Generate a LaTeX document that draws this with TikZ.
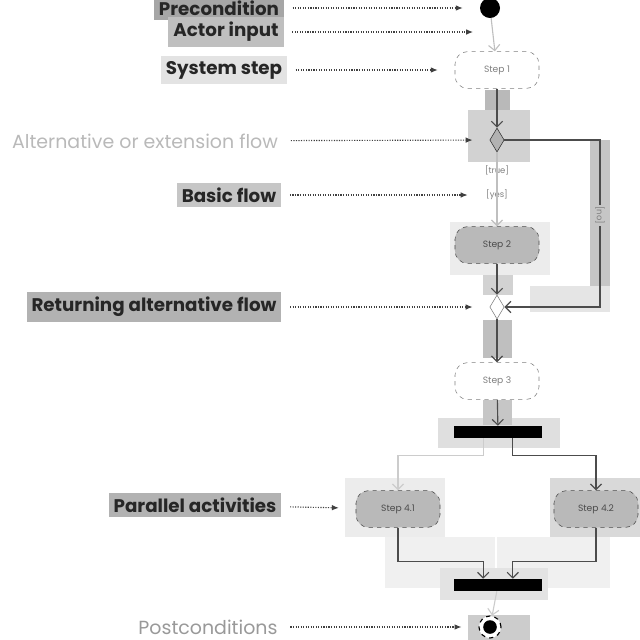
\documentclass[tikz,border=0pt]{standalone}
\usepackage{fontspec}
\setmainfont{Poppins}
\usetikzlibrary{arrows.meta,shapes.geometric}

\tikzset{
  lbl/.style={fill=#1, inner sep=3.5pt, text=black!85,
    font=\bfseries\fontsize{13}{15}\selectfont},
  lbltxt/.style={inner sep=3pt, font=\fontsize{13.5}{15}\selectfont},
  note/.style={densely dotted, thick, draw=black!75,
    -{Latex[length=5pt,width=4pt]}, shorten <=6pt, shorten >=12pt},
  flow/.style={draw=black!70, thick, -{Straight Barb[length=4pt,width=8pt]}},
  stepplain/.style={rectangle, rounded corners=9pt, draw=gray, dashed, fill=white,
    minimum width=2.1cm, minimum height=0.92cm, text=gray,
    font=\fontsize{6.5}{8}\selectfont},
  stepgrey/.style={stepplain, fill=gray!55, draw=black!70, text=black!70},
  decision/.style={diamond, draw=black!80, fill=gray!60, inner sep=0pt,
    minimum width=0.36cm, minimum height=0.6cm},
  merge/.style={decision, fill=white, draw=gray},
  guard/.style={fill=white, inner sep=1pt, text=gray,
    font=\fontsize{6}{7}\selectfont},
  bar/.style={rectangle, fill=black, minimum width=2.18cm, minimum height=0.3cm,
    inner sep=0pt},
  startnode/.style={circle, fill=black, minimum size=0.5cm, inner sep=0pt},
  endnode/.style={circle, draw=black, dashed, thick, fill=white,
    minimum size=0.55cm, inner sep=0pt,
    path picture={\fill[black] (path picture bounding box.center) circle (0.17cm);}}
}

\begin{document}
\begin{tikzpicture}[x=0.025cm,y=-0.025cm]
  \useasboundingbox (0,0) rectangle (640,640);

  % grey highlight bands
  \fill[gray!55] (485,90) rectangle (510,125);
  \fill[gray!35] (468,110) rectangle (530,162);
  \fill[gray!45] (590,140) rectangle (610,312);
  \fill[gray!20] (530,286) rectangle (610,312);
  \fill[gray!15] (450,222) rectangle (550,275);
  \fill[gray!35] (483,275) rectangle (513,295);
  \fill[gray!50] (483,320) rectangle (512,358);
  \fill[gray!25] (438,418) rectangle (560,448);
  \fill[gray!45] (483,400) rectangle (512,425);
  \fill[gray!15] (345,478) rectangle (445,537);
  \fill[gray!30] (550,478) rectangle (640,537);
  \fill[gray!12] (385,537) rectangle (495,588);
  \fill[gray!12] (497,537) rectangle (610,588);
  \fill[gray!22] (440,568) rectangle (548,600);
  \fill[gray!40] (468,615) rectangle (530,640);

  % activity nodes
  \node[startnode] (start) at (490,8) {};
  \node[stepplain] (s1) at (497,70) {Step 1};
  \node[decision] (alt) at (497,140) {};
  \node[guard] (gtrue) at (497,170) {[true]};
  \node[guard] (gyes) at (497,195) {[yes]};
  \node[stepgrey] (s2) at (497,245) {Step 2};
  \node[merge] (ret) at (497,307) {};
  \node[stepplain] (s3) at (497,381) {Step 3};
  \node[bar] (fork) at (498,432) {};
  \node[stepgrey] (s41) at (398,509) {Step 4.1};
  \node[stepgrey] (s42) at (596,509) {Step 4.2};
  \node[bar] (join) at (498,585) {};
  \node[endnode] (stop) at (490,627) {};

  \coordinate (actin) at (490,32);
  \coordinate (nocorner) at (600,140);
  \coordinate (noback) at (600,307);

  % flows
  \draw[flow, draw=gray!50] (start) -- (s1);
  \draw[flow] (s1) -- (alt);
  \draw[flow, draw=gray!50] (alt) -- (s2);
  \draw[flow] (alt.east) -- (nocorner)
    -- node[guard, fill=gray!45, rotate=-90, pos=0.45] {[no]} (noback)
    -- (ret.east);
  \draw[flow] (s2) -- (ret);
  \draw[flow] (ret) -- (s3);
  \draw[flow] (s3) -- (fork);
  \draw[flow, draw=gray!40] ([xshift=-0.37cm]fork.south) -- ++(0,17) -| (s41.north);
  \draw[flow] ([xshift=0.37cm]fork.south) -- ++(0,17) -| (s42.north);
  \draw[flow] (s41.south) -- ++(0,34) -| ([xshift=-0.37cm]join.north);
  \draw[flow] (s42.south) -- ++(0,34) -| ([xshift=0.37cm]join.north);
  \draw[flow, draw=gray!40] (join) -- (stop);

  % annotations
  \node[lbl=gray!70] (lpre) at (219,8) {Precondition};
  \node[lbl=gray!50] (lact) at (226,32) {Actor input};
  \node[lbl=gray!22] (lsys) at (224,70) {System step};
  \node[lbltxt, text=gray!55] (lalt) at (145,141) {Alternative or extension flow};
  \node[lbl=gray!45] (lbas) at (229,195) {Basic flow};
  \node[lbl=gray!60] (lret) at (154,307) {Returning alternative flow};
  \node[lbl=gray!60] (lpar) at (195,505) {Parallel activities};
  \node[lbltxt, text=gray!80] (lpost) at (208,627) {Postconditions};

  \draw[note] (lpre) -- (start);
  \draw[note] (lact) -- (actin);
  \draw[note] (lsys) -- (s1);
  \draw[note] (lalt) -- (alt);
  \draw[note] (lbas) -- (gyes);
  \draw[note] (lret) -- (ret);
  \draw[note] (lpar) -- (s41);
  \draw[note] (lpost) -- (stop);
\end{tikzpicture}
\end{document}
